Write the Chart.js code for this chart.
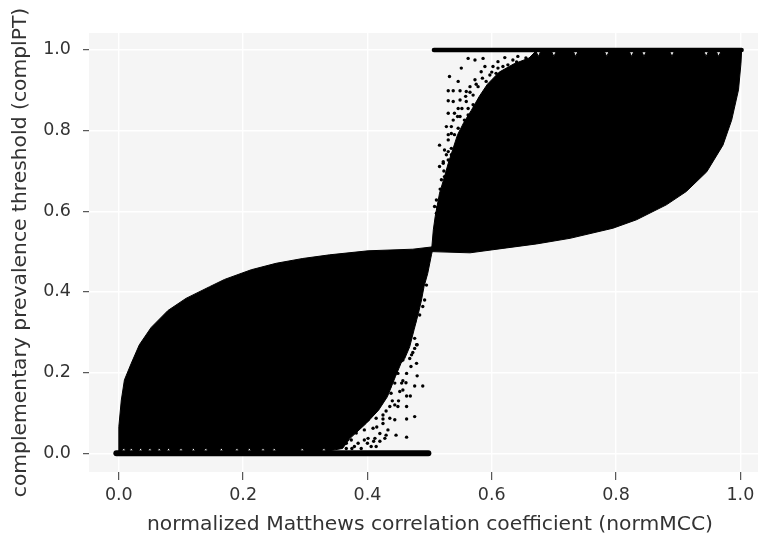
<!DOCTYPE html>
<html>
<head>
<meta charset="utf-8">
<title>complPT vs normMCC</title>
<script src="https://cdn.jsdelivr.net/npm/chart.js@4"></script>
<style>
  html, body { margin: 0; background: #fff; overflow: hidden; }
  /* the panel runs off the right edge of the picture, so the canvas is wider than the window */
  canvas { display: block; filter: blur(0.45px); }
</style>
</head>
<body>
<canvas id="scatterChart" width="771" height="536"></canvas>
<script>
const xTicks = [0, 0.2, 0.4, 0.6, 0.8, 1.0];
const yTicks = [0, 0.2, 0.4, 0.6, 0.8, 1.0];

// outline of the solid black part below 0.5
// the little notches along the bottom are the pale specks above the y=0 row
const lowerLobeX = [0, 0, 0.004, 0.009, 0.02, 0.033, 0.052, 0.079, 0.108, 0.146, 0.17, 0.213, 0.253, 0.296, 0.339, 0.401, 0.473, 0.506,
  0.503, 0.497, 0.491, 0.487, 0.482, 0.475, 0.468, 0.46, 0.454, 0.445, 0.432, 0.418, 0.398, 0.372, 0.36,
  0.334, 0.33, 0.326, 0.299, 0.295, 0.291, 0.254, 0.25, 0.246, 0.236, 0.232, 0.228, 0.214, 0.21, 0.206, 0.194, 0.19, 0.186,
  0.169, 0.165, 0.161, 0.144, 0.14, 0.136, 0.124, 0.12, 0.116, 0.104, 0.1, 0.096, 0.084, 0.08, 0.076, 0.069, 0.065, 0.061,
  0.054, 0.05, 0.046, 0.039, 0.035, 0.031, 0.024, 0.02, 0.016, 0.012, 0.008, 0.004, 0, 0];
const lowerLobeY = [0, 0.066, 0.132, 0.182, 0.223, 0.269, 0.312, 0.354, 0.384, 0.413, 0.431, 0.455, 0.471, 0.483, 0.492, 0.502, 0.506, 0.512,
  0.492, 0.446, 0.413, 0.38, 0.347, 0.306, 0.264, 0.235, 0.223, 0.19, 0.14, 0.107, 0.074, 0.037, 0.012,
  0.005, 0.013, 0.005, 0.005, 0.013, 0.005, 0.005, 0.013, 0.005, 0.005, 0.013, 0.005, 0.005, 0.013, 0.005, 0.005, 0.013, 0.005,
  0.005, 0.013, 0.005, 0.005, 0.013, 0.005, 0.005, 0.013, 0.005, 0.005, 0.013, 0.005, 0.005, 0.013, 0.005, 0.005, 0.013, 0.005,
  0.005, 0.013, 0.005, 0.005, 0.013, 0.005, 0.005, 0.013, 0.005, 0.005, 0.013, 0.005, 0.005, 0];

// same for the part above 0.5
const upperLobeX = [0.503, 0.565, 0.618, 0.672, 0.726, 0.795, 0.833, 0.881, 0.913, 0.946, 0.972, 0.986, 0.997, 1.001, 1.002,
  0.969, 0.965, 0.961, 0.949, 0.945, 0.941, 0.894, 0.89, 0.886, 0.849, 0.845, 0.841, 0.829, 0.825, 0.821,
  0.789, 0.785, 0.781, 0.739, 0.735, 0.731, 0.704, 0.7, 0.696, 0.679, 0.675, 0.671,
  0.66, 0.635, 0.612, 0.593, 0.58, 0.567, 0.555, 0.545, 0.537, 0.53, 0.524, 0.516, 0.509, 0.506, 0.503];
const upperLobeY = [0.5, 0.497, 0.508, 0.519, 0.533, 0.558, 0.579, 0.616, 0.649, 0.698, 0.764, 0.826, 0.901, 0.967, 0.997,
  0.997, 0.984, 0.997, 0.997, 0.984, 0.997, 0.997, 0.984, 0.997, 0.997, 0.984, 0.997, 0.997, 0.984, 0.997,
  0.997, 0.984, 0.997, 0.997, 0.984, 0.997, 0.997, 0.984, 0.997, 0.997, 0.984, 0.997,
  0.98, 0.965, 0.945, 0.915, 0.885, 0.85, 0.82, 0.79, 0.752, 0.719, 0.686, 0.645, 0.587, 0.554, 0.5];

// the two flat rows of points
const bottomRowX = [-0.004, 0.498];
const bottomRowY = [0, 0];
const topRowX = [0.507, 1.002];
const topRowY = [1, 1];

// loose points outside the solid parts
const looseLowX = [0.48, 0.479, 0.48, 0.476, 0.489, 0.463, 0.469, 0.463, 0.476, 0.463, 0.446, 0.463, 0.428, 0.414, 0.406, 0.395, 0.379, 0.366,
  0.455, 0.444, 0.449, 0.441, 0.463, 0.457, 0.468, 0.444, 0.436, 0.43, 0.444, 0.449, 0.436, 0.425, 0.436, 0.444, 0.425, 0.414, 0.401, 0.393,
  0.409, 0.433, 0.42, 0.395, 0.382, 0.374, 0.401, 0.412, 0.366, 0.452, 0.438, 0.457, 0.438,
  0.495, 0.492, 0.489, 0.484, 0.476, 0.479, 0.471, 0.476,
  0.375, 0.385, 0.39, 0.4, 0.41, 0.42, 0.43, 0.415, 0.425, 0.43, 0.44, 0.45, 0.457, 0.462, 0.47, 0.473, 0.476];
const looseLowY = [0.269, 0.223, 0.192, 0.167, 0.167, 0.142, 0.142, 0.116, 0.091, 0.085, 0.045, 0.04, 0.037, 0.017, 0.017, 0.033, 0.017, 0.012,
  0.174, 0.174, 0.198, 0.207, 0.198, 0.231, 0.235, 0.231, 0.165, 0.149, 0.12, 0.116, 0.116, 0.095, 0.087, 0.083, 0.074, 0.087, 0.083, 0.078,
  0.062, 0.058, 0.049, 0.058, 0.05, 0.033, 0.037, 0.037, 0.025, 0.153, 0.149, 0.157, 0.19,
  0.417, 0.38, 0.364, 0.343, 0.326, 0.269, 0.244, 0.285,
  0.012, 0.025, 0.012, 0.025, 0.03, 0.03, 0.045, 0.065, 0.085, 0.105, 0.13, 0.13, 0.18, 0.175, 0.215, 0.25, 0.26];
const looseHighX = [0.532, 0.551, 0.562, 0.573, 0.586, 0.546, 0.53, 0.538, 0.549, 0.53, 0.538, 0.549, 0.559, 0.565, 0.573, 0.583, 0.589, 0.602, 0.61, 0.621,
  0.634, 0.642, 0.597, 0.591, 0.578, 0.57, 0.559, 0.546, 0.54, 0.53, 0.538, 0.549, 0.562, 0.57, 0.581, 0.567, 0.556, 0.527, 0.535, 0.546,
  0.53, 0.516, 0.524, 0.535, 0.543, 0.522, 0.53, 0.54, 0.549, 0.562, 0.607, 0.618, 0.626,
  0.516, 0.522, 0.53, 0.519, 0.524, 0.511, 0.508, 0.516, 0.511, 0.524, 0.535,
  0.523, 0.527, 0.535, 0.53, 0.54, 0.535, 0.545, 0.552, 0.558, 0.565, 0.575, 0.585, 0.6, 0.61, 0.64, 0.655, 0.517, 0.513];
const looseHighY = [0.934, 0.955, 0.979, 0.975, 0.979, 0.922, 0.899, 0.899, 0.899, 0.874, 0.872, 0.876, 0.897, 0.909, 0.926, 0.946, 0.959, 0.959, 0.971, 0.981,
  0.975, 0.984, 0.938, 0.922, 0.909, 0.888, 0.872, 0.855, 0.843, 0.843, 0.826, 0.835, 0.855, 0.864, 0.88, 0.818, 0.826, 0.81, 0.793, 0.806,
  0.777, 0.764, 0.752, 0.756, 0.764, 0.719, 0.727, 0.74, 0.744, 0.839, 0.942, 0.959, 0.963,
  0.711, 0.723, 0.748, 0.678, 0.686, 0.628, 0.612, 0.62, 0.595, 0.661, 0.727,
  0.7, 0.74, 0.74, 0.79, 0.79, 0.81, 0.835, 0.855, 0.885, 0.895, 0.915, 0.93, 0.945, 0.955, 0.97, 0.98, 0.655, 0.61];

const ink = "#000";
const textGrey = "#333";
const toPoints = (xs, ys) => xs.map((x, i) => ({ x, y: ys[i] }));

const lobe = (xs, ys) => ({
  data: toPoints(xs, ys),
  showLine: true,
  fill: "shape",
  backgroundColor: ink,
  borderColor: ink,
  borderWidth: 1,
  pointRadius: 0,
  tension: 0,
});
const row = (xs, ys, width) => ({
  data: toPoints(xs, ys),
  showLine: true,
  fill: false,
  borderColor: ink,
  borderWidth: width,
  borderCapStyle: "round",
  pointRadius: 0,
});
const loose = (xs, ys) => ({
  data: toPoints(xs, ys),
  showLine: false,
  backgroundColor: ink,
  borderWidth: 0,
  pointRadius: 1.7,
});

const panelBackground = {
  id: "panelBackground",
  beforeDraw(chart) {
    const { ctx, chartArea: a } = chart;
    ctx.save();
    ctx.fillStyle = "#f5f5f5";
    ctx.fillRect(a.left, a.top, a.right - a.left, a.bottom - a.top);
    ctx.restore();
  },
};

const axis = (ticks, min, max, title, size, tickLength, tickPadding, titlePadding) => ({
  type: "linear",
  min,
  max,
  afterBuildTicks: (scale) => { scale.ticks = ticks.map((value) => ({ value })); },
  afterFit: (scale) => {
    if (scale.isHorizontal()) scale.height = size;
    else scale.width = size;
  },
  border: { display: false },
  grid: { color: "#fff", lineWidth: 1.4, tickColor: "#333", tickLength, tickWidth: 1 },
  ticks: {
    color: "#333",
    font: { family: "DejaVu Sans", size: 17.5 },
    padding: tickPadding,
    maxRotation: 0,
    autoSkip: false,
    callback: (v) => Number(v).toFixed(1),
  },
  title: {
    display: true,
    text: title,
    color: textGrey,
    font: { family: "DejaVu Sans", size: 20.3, lineHeight: 1.1 },
    padding: titlePadding,
  },
});

new Chart(document.getElementById("scatterChart"), {
  type: "scatter",
  data: {
    datasets: [
      lobe(lowerLobeX, lowerLobeY),
      lobe(upperLobeX, upperLobeY),
      row(bottomRowX, bottomRowY, 6),
      row(topRowX, topRowY, 4.5),
      loose(looseLowX, looseLowY),
      loose(looseHighX, looseHighY),
    ],
  },
  plugins: [panelBackground],
  options: {
    responsive: false,
    animation: false,
    layout: { autoPadding: false, padding: { top: 33, left: 0, right: 0, bottom: 0 } },
    plugins: { legend: { display: false }, tooltip: { enabled: false } },
    scales: {
      x: axis(xTicks, -0.048, 1.0493, "normalized Matthews correlation coefficient (normMCC)", 64, 8, 5, { top: 0, bottom: 0 }),
      y: axis(yTicks, -0.0464, 1.042, "complementary prevalence threshold (complPT)", 89, 6, 12, { top: 10, bottom: 0 }),
    },
  },
});
</script>
</body>
</html>
